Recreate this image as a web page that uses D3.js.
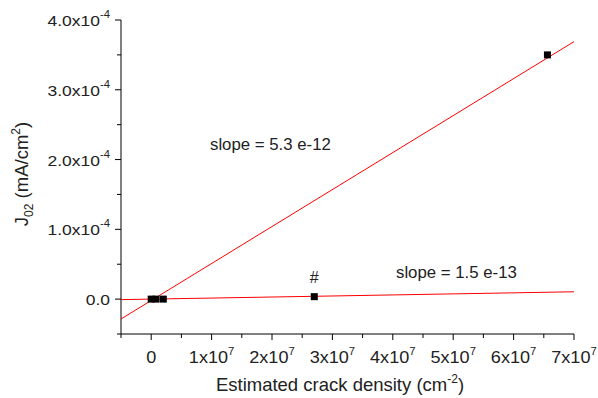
<!DOCTYPE html>
<html>
<head>
<meta charset="utf-8">
<script src="https://cdn.jsdelivr.net/npm/d3@7"></script>
<style>
  body { margin: 0; background: #fff; }
  text { font-family: "Liberation Sans", Arial, sans-serif; fill: #222; }
</style>
</head>
<body>
<svg id="chart" width="598" height="398"></svg>
<script>
// measured points: crack density (cm^-2) vs J02 (mA/cm^2)
const crackDensity = [0, 0.08e7, 0.2e7, 2.7e7, 6.56e7];
const j02 = [0, 0, 0, 3.5e-6, 3.5e-4];

// fitted lines: slope, intercept
const fitSlopes = [5.3e-12, 1.5e-13];
const fitIntercepts = [-2e-6, 0];
const fitLabels = ["slope = 5.3 e-12", "slope = 1.5 e-13"];

const xTicks = [0, 1e7, 2e7, 3e7, 4e7, 5e7, 6e7, 7e7];
const yTicks = [0, 1e-4, 2e-4, 3e-4, 4e-4];

const svg = d3.select("#chart");

const x = d3.scaleLinear().domain([-0.5e7, 7e7]).range([121, 574]);
const y = d3.scaleLinear().domain([-0.5e-4, 4e-4]).range([334, 20]);

// tick labels in the original are a bit wide, so stretch them horizontally
const stretch = 1.13;

// x axis
const gx = svg.append("g").attr("transform", `translate(0,${y.range()[0]})`);
gx.append("line")
  .attr("x1", x.range()[0]).attr("x2", x.range()[1])
  .attr("stroke", "#000");
const xMinor = d3.range(-0.5e7, 7.01e7, 0.5e7);
gx.selectAll(".xt").data(xMinor).join("line")
  .attr("x1", d => x(d)).attr("x2", d => x(d))
  .attr("y1", 0)
  .attr("y2", (d, i) => (i % 2 === 1 ? 6 : 4))
  .attr("stroke", "#000");

const xl = gx.selectAll(".xl").data(xTicks).join("text")
  .attr("transform", d => `translate(${x(d)},29) scale(${stretch},1)`)
  .attr("text-anchor", "middle")
  .attr("font-size", 16);
xl.each(function (d) {
  const t = d3.select(this);
  if (d === 0) { t.text("0"); return; }
  t.append("tspan").text(`${d / 1e7}x10`);
  t.append("tspan").attr("dy", -8).attr("font-size", 10).text("7");
});

// y axis
const gy = svg.append("g").attr("transform", `translate(${x.range()[0]},0)`);
gy.append("line")
  .attr("y1", y.range()[0]).attr("y2", y.range()[1])
  .attr("stroke", "#000");
const yMinor = d3.range(-0.5e-4, 4.01e-4, 0.5e-4);
gy.selectAll(".yt").data(yMinor).join("line")
  .attr("y1", d => y(d)).attr("y2", d => y(d))
  .attr("x1", 0)
  .attr("x2", (d, i) => (i % 2 === 1 ? -6 : -4))
  .attr("stroke", "#000");

const yl = gy.selectAll(".yl").data(yTicks).join("text")
  .attr("transform", d => `translate(-11,${y(d) + 6}) scale(${stretch},1)`)
  .attr("text-anchor", "end")
  .attr("font-size", 15.5);
yl.each(function (d) {
  const t = d3.select(this);
  if (d === 0) { t.text("0.0"); return; }
  t.append("tspan").text(`${(d / 1e-4).toFixed(1)}x10`);
  t.append("tspan").attr("dy", -8).attr("font-size", 10).text("-4");
});

// fit lines
const plot = svg.append("g");
fitSlopes.forEach((m, i) => {
  const line = d3.line().x(d => x(d)).y(d => y(m * d + fitIntercepts[i]));
  plot.append("path")
    .attr("d", line(x.domain()))
    .attr("fill", "none")
    .attr("stroke", "#f00")
    .attr("stroke-width", 1);
});

// data points
plot.selectAll("rect").data(crackDensity).join("rect")
  .attr("x", d => x(d) - 3.5)
  .attr("y", (d, i) => y(j02[i]) - 3.5)
  .attr("width", 7).attr("height", 7)
  .attr("fill", "#000");

// annotations
svg.append("text").attr("x", 210).attr("y", 150).attr("font-size", 16.8).text(fitLabels[0]);
svg.append("text").attr("x", 396).attr("y", 278).attr("font-size", 16.8).text(fitLabels[1]);
svg.append("text").attr("x", x(crackDensity[3])).attr("y", 283)
  .attr("text-anchor", "middle").attr("font-size", 16).text("#");

// axis titles
const xt = svg.append("text").attr("x", 340).attr("y", 391)
  .attr("text-anchor", "middle").attr("font-size", 18.5);
xt.append("tspan").text("Estimated crack density (cm");
xt.append("tspan").attr("dy", -8).attr("font-size", 12).text("-2");
xt.append("tspan").attr("dy", 8).text(")");

const ytl = svg.append("text")
  .attr("transform", "translate(28,174) rotate(-90)")
  .attr("text-anchor", "middle").attr("font-size", 18.5);
ytl.append("tspan").text("J");
ytl.append("tspan").attr("dy", 5).attr("font-size", 12).text("02");
ytl.append("tspan").attr("dy", -5).text(" (mA/cm");
ytl.append("tspan").attr("dy", -8).attr("font-size", 12).text("2");
ytl.append("tspan").attr("dy", 8).text(")");
</script>
</body>
</html>
